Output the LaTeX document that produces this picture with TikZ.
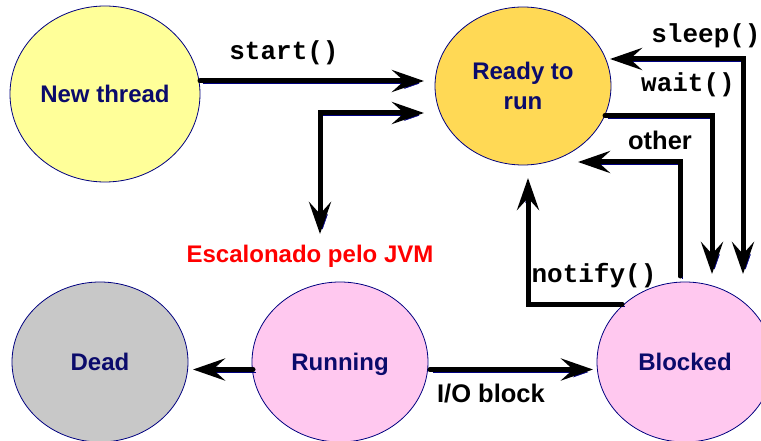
\documentclass[tikz,border=0pt]{standalone}
\usepackage{fontspec}
\setmainfont{Liberation Sans}
\newfontfamily\monofont{Liberation Mono}
\usetikzlibrary{shapes.geometric,arrows.meta}
\definecolor{navyline}{HTML}{000080}
\definecolor{statetext}{HTML}{0B0B6B}
\definecolor{newfill}{HTML}{FFFF99}
\definecolor{readyfill}{HTML}{FFD955}
\definecolor{deadfill}{HTML}{C8C8C8}
\definecolor{pinkfill}{HTML}{FFC8EF}
\begin{document}
\begin{tikzpicture}[x=1pt,y=-1pt,
  >={Stealth[length=32pt,width=22pt,inset=12pt]},
  state/.style={ellipse, draw=navyline, line width=0.8pt, inner sep=0pt,
    minimum width=176pt, minimum height=160pt, text=statetext, align=center,
    text depth=0pt, font=\fontsize{24}{30}\selectfont\bfseries},
  arr/.style={line width=5pt, draw=black, line cap=round,
    preaction={draw=navyline, transform canvas={shift={(2.5pt,-2.5pt)}}}},
  codelbl/.style={anchor=base, inner sep=0pt, font=\monofont\fontsize{26}{28}\selectfont\bfseries},
  sanslbl/.style={anchor=base, inner sep=0pt, font=\fontsize{25.5}{28}\selectfont\bfseries}
]
\useasboundingbox (0,0) rectangle (761,441);

% states
\node[state, fill=newfill, minimum width=190pt, minimum height=176pt] (newt) at (105,94) {New thread};
\node[state, fill=readyfill, minimum height=158pt] (ready) at (523,86) {Ready to\\run};
\node[state, fill=deadfill] (dead) at (100,362) {Dead};
\node[state, fill=pinkfill] (running) at (340,362) {Running};
\node[state, fill=pinkfill] (blocked) at (685,362) {Blocked};

% labels
\node[codelbl] (lstart) at (284,60) {start()};
\node[codelbl] (lsleep) at (706,43) {sleep()};
\node[codelbl] (lwait) at (688,92) {wait()};
\node[codelbl] (lnotify) at (594,282) {notify()};
\node[sanslbl] (lother) at (660,150) {other};
\node[sanslbl] (lio) at (491,402) {I/O block};
\node[sanslbl, font=\fontsize{24}{28}\selectfont\bfseries, text=red] (lesc) at (310,262) {Escalonado pelo JVM};

% connector points
\coordinate (startS) at (200,81);
\coordinate (startE) at (424,81);
\coordinate (escD) at (320,234);
\coordinate (escE) at (424,113);
\coordinate (sleepL) at (610,59);
\coordinate (sleepD) at (743,274);
\coordinate (waitS) at (605,115.5);
\coordinate (waitD) at (712,274);
\coordinate (otherS) at (680,276);
\coordinate (otherE) at (578,162);
\coordinate (notifyS) at (622,304);
\coordinate (notifyE) at (528,178);
\coordinate (deadS) at (253,369.5);
\coordinate (deadE) at (193,369.5);
\coordinate (ioS) at (430,369.5);
\coordinate (ioE) at (593,369.5);

% connectors
\draw[arr, ->] (startS) -- (startE);
\draw[arr, <->] (escD) |- (escE);
\draw[arr, <->] (sleepL) -| (sleepD);
\draw[arr, ->] (waitS) -| (waitD);
\draw[arr, ->] (otherS) |- (otherE);
\draw[arr, ->] (notifyS) -| (notifyE);
\draw[arr, ->] (deadS) -- (deadE);
\draw[arr, ->] (ioS) -- (ioE);
\end{tikzpicture}
\end{document}
